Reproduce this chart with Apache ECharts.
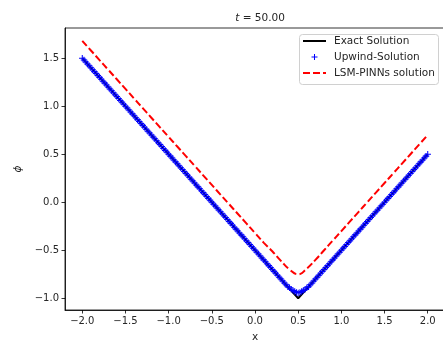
<!DOCTYPE html>
<html>
<head>
<meta charset="utf-8">
<script src="https://cdn.jsdelivr.net/npm/echarts@6/dist/echarts.min.js"></script>
<style>
  html, body { margin: 0; padding: 0; background: #fff; }
  #chart { width: 443px; height: 343px; }
</style>
</head>
<body>
<div id="chart"></div>
<script>
// Exact solution: a V shape with its vertex at x = 0.5
const exactX = [-2.0, 0.5, 2.0];
const exactPhi = [1.5, -1.0, 0.5];

// Upwind scheme solution on the grid (dx = 0.02)
const upwindX = [
  -2.00, -1.98, -1.96, -1.94, -1.92, -1.90, -1.88, -1.86, -1.84, -1.82,
  -1.80, -1.78, -1.76, -1.74, -1.72, -1.70, -1.68, -1.66, -1.64, -1.62,
  -1.60, -1.58, -1.56, -1.54, -1.52, -1.50, -1.48, -1.46, -1.44, -1.42,
  -1.40, -1.38, -1.36, -1.34, -1.32, -1.30, -1.28, -1.26, -1.24, -1.22,
  -1.20, -1.18, -1.16, -1.14, -1.12, -1.10, -1.08, -1.06, -1.04, -1.02,
  -1.00, -0.98, -0.96, -0.94, -0.92, -0.90, -0.88, -0.86, -0.84, -0.82,
  -0.80, -0.78, -0.76, -0.74, -0.72, -0.70, -0.68, -0.66, -0.64, -0.62,
  -0.60, -0.58, -0.56, -0.54, -0.52, -0.50, -0.48, -0.46, -0.44, -0.42,
  -0.40, -0.38, -0.36, -0.34, -0.32, -0.30, -0.28, -0.26, -0.24, -0.22,
  -0.20, -0.18, -0.16, -0.14, -0.12, -0.10, -0.08, -0.06, -0.04, -0.02,
   0.00,  0.02,  0.04,  0.06,  0.08,  0.10,  0.12,  0.14,  0.16,  0.18,
   0.20,  0.22,  0.24,  0.26,  0.28,  0.30,  0.32,  0.34,  0.36,  0.38,
   0.40,  0.42,  0.44,  0.46,  0.48,  0.50,  0.52,  0.54,  0.56,  0.58,
   0.60,  0.62,  0.64,  0.66,  0.68,  0.70,  0.72,  0.74,  0.76,  0.78,
   0.80,  0.82,  0.84,  0.86,  0.88,  0.90,  0.92,  0.94,  0.96,  0.98,
   1.00,  1.02,  1.04,  1.06,  1.08,  1.10,  1.12,  1.14,  1.16,  1.18,
   1.20,  1.22,  1.24,  1.26,  1.28,  1.30,  1.32,  1.34,  1.36,  1.38,
   1.40,  1.42,  1.44,  1.46,  1.48,  1.50,  1.52,  1.54,  1.56,  1.58,
   1.60,  1.62,  1.64,  1.66,  1.68,  1.70,  1.72,  1.74,  1.76,  1.78,
   1.80,  1.82,  1.84,  1.86,  1.88,  1.90,  1.92,  1.94,  1.96,  1.98,
   2.00
];
const upwindPhi = [
   1.50,  1.48,  1.46,  1.44,  1.42,  1.40,  1.38,  1.36,  1.34,  1.32,
   1.30,  1.28,  1.26,  1.24,  1.22,  1.20,  1.18,  1.16,  1.14,  1.12,
   1.10,  1.08,  1.06,  1.04,  1.02,  1.00,  0.98,  0.96,  0.94,  0.92,
   0.90,  0.88,  0.86,  0.84,  0.82,  0.80,  0.78,  0.76,  0.74,  0.72,
   0.70,  0.68,  0.66,  0.64,  0.62,  0.60,  0.58,  0.56,  0.54,  0.52,
   0.50,  0.48,  0.46,  0.44,  0.42,  0.40,  0.38,  0.36,  0.34,  0.32,
   0.30,  0.28,  0.26,  0.24,  0.22,  0.20,  0.18,  0.16,  0.14,  0.12,
   0.10,  0.08,  0.06,  0.04,  0.02,  0.00, -0.02, -0.04, -0.06, -0.08,
  -0.10, -0.12, -0.14, -0.16, -0.18, -0.20, -0.22, -0.24, -0.26, -0.28,
  -0.30, -0.32, -0.34, -0.36, -0.38, -0.40, -0.42, -0.44, -0.46, -0.48,
  -0.50, -0.52, -0.54, -0.56, -0.58, -0.60, -0.62, -0.64, -0.66, -0.68,
  -0.70, -0.72, -0.74, -0.76, -0.78, -0.80, -0.82, -0.84, -0.86, -0.88,
  -0.89, -0.905, -0.92, -0.93, -0.94, -0.945, -0.94, -0.93, -0.92, -0.905,
  -0.89, -0.88, -0.86, -0.84, -0.82, -0.80, -0.78, -0.76, -0.74, -0.72,
  -0.70, -0.68, -0.66, -0.64, -0.62, -0.60, -0.58, -0.56, -0.54, -0.52,
  -0.50, -0.48, -0.46, -0.44, -0.42, -0.40, -0.38, -0.36, -0.34, -0.32,
  -0.30, -0.28, -0.26, -0.24, -0.22, -0.20, -0.18, -0.16, -0.14, -0.12,
  -0.10, -0.08, -0.06, -0.04, -0.02,  0.00,  0.02,  0.04,  0.06,  0.08,
   0.10,  0.12,  0.14,  0.16,  0.18,  0.20,  0.22,  0.24,  0.26,  0.28,
   0.30,  0.32,  0.34,  0.36,  0.38,  0.40,  0.42,  0.44,  0.46,  0.48,
   0.50
];

// LSM-PINNs prediction
const pinnX = [
  -2.0, -1.9, -1.8, -1.7, -1.6, -1.5, -1.4, -1.3, -1.2, -1.1,
  -1.0, -0.9, -0.8, -0.7, -0.6, -0.5, -0.4, -0.3, -0.2, -0.1,
   0.0,  0.1,  0.2,  0.3,  0.4,  0.5,  0.6,  0.7,  0.8,  0.9,
   1.0,  1.1,  1.2,  1.3,  1.4,  1.5,  1.6,  1.7,  1.8,  1.9,
   2.0
];
const pinnPhi = [
   1.68,  1.58,  1.48,  1.38,  1.28,  1.18,  1.08,  0.98,  0.88,  0.78,
   0.68,  0.58,  0.48,  0.38,  0.28,  0.18,  0.08, -0.02, -0.12, -0.22,
  -0.32, -0.42, -0.51, -0.61, -0.70, -0.75, -0.69, -0.60, -0.50, -0.40,
  -0.30, -0.20, -0.10,  0.00,  0.10,  0.20,  0.30,  0.40,  0.50,  0.60,
   0.70
];

const xTicks = [-2.0, -1.5, -1.0, -0.5, 0.0, 0.5, 1.0, 1.5, 2.0];
const yTicks = [-1.0, -0.5, 0.0, 0.5, 1.0, 1.5];
const legendLabels = ['Exact Solution', 'Upwind-Solution', 'LSM-PINNs solution'];

const FONT = 'DejaVu Sans';
const TXT = '#262626';
const fmt = v => v.toFixed(1).replace('-', '\u2212');
const pairs = (xs, ys) => xs.map((x, i) => [x, ys[i]]);

// plus-shaped marker
const PLUS = 'path://M0.42,0H0.58V0.42H1V0.58H0.58V1H0.42V0.58H0V0.42H0.42Z';

const chart = echarts.init(document.getElementById('chart'), null, { renderer: 'canvas' });

const LX = 299, LY = 34;
const legendRows = [
  { y: LY + 7, draw: 'solid' },
  { y: LY + 23, draw: 'plus' },
  { y: LY + 39, draw: 'dash' }
];
const legendGraphics = [{
  type: 'rect', shape: { x: LX + 0.5, y: LY + 0.5, width: 139, height: 50, r: 3 },
  style: { fill: 'rgba(255,255,255,0.85)', stroke: '#d0d0d0', lineWidth: 1 }, z: 100
}];
legendRows.forEach((row, i) => {
  if (row.draw === 'solid') {
    legendGraphics.push({ type: 'line', shape: { x1: LX + 4, y1: row.y, x2: LX + 27, y2: row.y },
      style: { stroke: '#000', lineWidth: 2 }, z: 101 });
  } else if (row.draw === 'plus') {
    legendGraphics.push({ type: 'line', shape: { x1: LX + 12.5, y1: row.y, x2: LX + 18.5, y2: row.y },
      style: { stroke: '#0000ff', lineWidth: 1 }, z: 101 });
    legendGraphics.push({ type: 'line', shape: { x1: LX + 15.5, y1: row.y - 3, x2: LX + 15.5, y2: row.y + 3 },
      style: { stroke: '#0000ff', lineWidth: 1 }, z: 101 });
  } else {
    legendGraphics.push({ type: 'line', shape: { x1: LX + 4, y1: row.y, x2: LX + 27, y2: row.y },
      style: { stroke: '#ff0000', lineWidth: 2, lineDash: [7, 3] }, z: 101 });
  }
  legendGraphics.push({ type: 'text', x: LX + 35, y: row.y,
    style: { text: legendLabels[i], font: '10.5px ' + FONT, fill: TXT, textVerticalAlign: 'middle' }, z: 101 });
});

chart.setOption({
  animation: false,
  backgroundColor: '#fff',
  title: {
    text: '{i|t} = 50.00',
    left: 255, top: 8, textAlign: 'center',
    textStyle: {
      fontFamily: FONT, fontSize: 10.5, fontWeight: 'normal', color: TXT,
      rich: { i: { fontFamily: FONT, fontStyle: 'italic', fontSize: 10.5, color: TXT } }
    }
  },
  grid: {
    left: 65, top: 28, width: 380, height: 282,
    outerBoundsMode: 'none', containLabel: false,
    show: true, borderColor: '#000', borderWidth: 0.8, backgroundColor: 'transparent'
  },
  xAxis: {
    type: 'value', min: -2.2, max: 2.2,
    name: 'x', nameLocation: 'middle', nameGap: 22,
    nameTextStyle: { fontFamily: FONT, fontSize: 10.5, color: TXT },
    axisLine: { show: true, onZero: false, lineStyle: { color: '#000', width: 0.8 } },
    axisTick: { show: true, length: 3.5, customValues: xTicks, lineStyle: { color: '#000', width: 0.8 } },
    axisLabel: { customValues: xTicks, formatter: v => fmt(v), margin: 6,
      fontFamily: FONT, fontSize: 10, color: TXT },
    splitLine: { show: false }
  },
  yAxis: {
    type: 'value', min: -1.122, max: 1.814,
    name: '\u03d5', nameLocation: 'middle', nameGap: 41, nameRotate: 90,
    nameTextStyle: { fontFamily: FONT, fontStyle: 'italic', fontSize: 10.5, color: TXT },
    axisLine: { show: true, onZero: false, lineStyle: { color: '#000', width: 0.8 } },
    axisTick: { show: true, length: 3.5, customValues: yTicks, lineStyle: { color: '#000', width: 0.8 } },
    axisLabel: { customValues: yTicks, formatter: v => fmt(v), margin: 6,
      fontFamily: FONT, fontSize: 10, color: TXT },
    splitLine: { show: false }
  },
  series: [
    {
      name: 'Exact Solution', type: 'line', data: pairs(exactX, exactPhi),
      showSymbol: false, lineStyle: { color: '#000', width: 2 }, z: 2
    },
    {
      name: 'Upwind-Solution', type: 'scatter', data: pairs(upwindX, upwindPhi),
      symbol: PLUS, symbolSize: 6.5, itemStyle: { color: '#0000ff', opacity: 1 }, z: 3
    },
    {
      name: 'LSM-PINNs solution', type: 'line', data: pairs(pinnX, pinnPhi), smooth: 0.5,
      showSymbol: false, lineStyle: { color: '#ff0000', width: 2, type: [7, 3] }, z: 4
    }
  ],
  graphic: legendGraphics
});
</script>
</body>
</html>
